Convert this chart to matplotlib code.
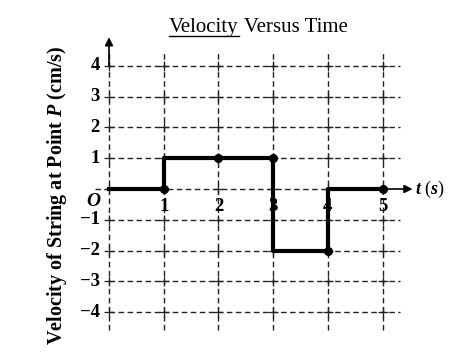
import matplotlib
matplotlib.use("Agg")
import matplotlib.pyplot as plt

# data
times = [0, 1, 1, 3, 3, 4, 4, 5]
velocities = [0, 0, 1, 1, -2, -2, 0, 0]
dot_t = [1, 2, 3, 4, 5]
dot_v = [0, 1, 1, -2, 0]
x_ticks = [1, 2, 3, 4, 5]
y_ticks = [4, 3, 2, 1, -1, -2, -3, -4]
title_rest = " Versus Time"
title_under = "Velocity"
ylabel = "Velocity of String at Point $P$ (cm/s)"

plt.rcParams['font.family'] = ['Liberation Serif', 'DejaVu Serif']
plt.rcParams['mathtext.fontset'] = 'custom'
plt.rcParams['mathtext.it'] = 'Liberation Serif:italic:bold'
plt.rcParams['mathtext.rm'] = 'Liberation Serif:bold'

W, H = 472, 359
fig = plt.figure(figsize=(W / 100, H / 100), dpi=100)
ax = fig.add_axes([0, 0, 1, 1])
x0, sx = 109, 54.7
y0, sy = 189, 30.8
ax.set_xlim(-x0 / sx, (W - x0) / sx)
ax.set_ylim((y0 - H) / sy, y0 / sy)
ax.axis('off')

dash = (0, (4, 2.5))
gcol = '#222222'
# vertical grid lines
for t in range(0, 6):
    ax.plot([t, t], [-4.58, 4.5], color=gcol, lw=1.0, ls=dash, zorder=1)
# horizontal grid lines
for v in y_ticks:
    ax.plot([0, 5.32], [v, v], color=gcol, lw=1.0, ls=dash, zorder=1)
ax.plot([-0.25, 5.0], [0, 0], color=gcol, lw=1.0, ls=dash, zorder=1)

# small crosses at intersections
for t in range(0, 6):
    for v in y_ticks + [0]:
        ax.plot(t, v, marker='+', ms=7, mew=0.9, color=gcol, zorder=2)

# axis arrows
ax.annotate('', xy=(5.55, 0), xytext=(5.0, 0),
            arrowprops=dict(arrowstyle='-|>', color='black', lw=1.2,
                            mutation_scale=12, shrinkA=0, shrinkB=0))
ax.annotate('', xy=(0, 4.93), xytext=(0, 4.0),
            arrowprops=dict(arrowstyle='-|>', color='black', lw=1.2,
                            mutation_scale=12, shrinkA=0, shrinkB=0))

# tick labels
for v in y_ticks:
    lab = str(v).replace('-', '\u2212')
    ax.text(-0.17, v, lab, ha='right', va='center', fontsize=13.5, fontweight='bold')
for t in x_ticks:
    ax.text(t, -0.58, str(t), ha='center', va='center', fontsize=13.5, fontweight='bold')
ax.text(-0.29, -0.42, 'O', ha='center', va='center', fontsize=14,
        fontstyle='italic', fontweight='bold')
ax.text(5.6, 0, '$t$ ($s$)', ha='left', va='center', fontsize=13)

# data
ax.plot(times, velocities, color='black', lw=3.0, solid_joinstyle='round', zorder=4)
ax.plot(dot_t, dot_v, 'o', color='black', ms=5.5, zorder=5)

# title with underline
tx = (169 - x0) / sx
ty = (y0 - 32) / sy
a = ax.text(tx, ty, title_under, ha='left', va='baseline', fontsize=15)
fig.canvas.draw()
bb = a.get_window_extent()
inv = ax.transData.inverted()
(ux0, _), (ux1, _) = inv.transform([(bb.x0, 0), (bb.x1, 0)])
ax.text(ux1, ty, title_rest, ha='left', va='baseline', fontsize=15)
ax.plot([ux0, ux1], [(y0 - 35.5) / sy] * 2, color='black', lw=1.0)

# y label
ax.text((57 - x0) / sx, (y0 - 195) / sy, ylabel, rotation=90, ha='center',
        va='center', fontsize=14.5, fontweight='bold')

fig.savefig('out.png', dpi=100)
